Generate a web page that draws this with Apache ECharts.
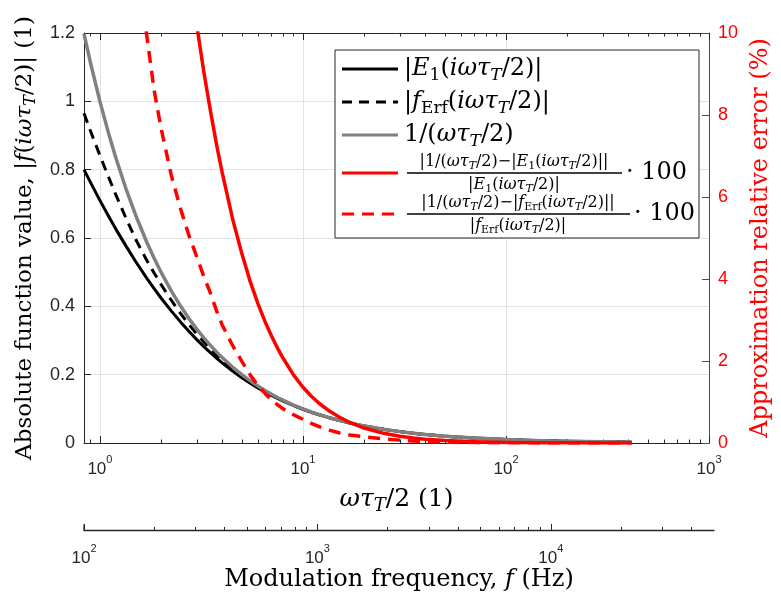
<!DOCTYPE html>
<html><head><meta charset="utf-8">
<script src="https://cdn.jsdelivr.net/npm/echarts@6/dist/echarts.min.js"></script>
<style>html,body{margin:0;padding:0;background:#fff}#c{width:781px;height:605px}</style>
</head><body><div id="c"></div>
<script>
// ---- data ----
const omegaTau = [0.835, 0.9, 1, 1.1, 1.2, 1.35, 1.5, 1.7, 1.85, 2, 2.25, 2.5, 2.75, 3, 3.25, 3.5, 3.75, 4, 4.5, 5, 5.5, 6, 6.5, 7, 7.5, 8, 9, 10, 11, 12, 13.5, 15, 17, 20, 25, 30, 35, 40, 50, 70, 100, 150, 200, 300, 417];
const absE1 = [0.800, 0.7621, 0.7100, 0.6650, 0.6253, 0.5747, 0.5313, 0.4824, 0.4517, 0.4244, 0.3860, 0.3537, 0.3262, 0.3025, 0.2822, 0.2643, 0.2485, 0.2345, 0.2107, 0.1912, 0.1749, 0.1612, 0.1494, 0.1392, 0.1303, 0.1225, 0.1093, 0.0987, 0.0899, 0.0825, 0.0735, 0.0663, 0.0585, 0.0498, 0.0399, 0.0333, 0.0285, 0.0250, 0.0200, 0.0143, 0.0100, 0.00667, 0.0050, 0.00333, 0.0024];
const absFErf = [0.9650, 0.9122, 0.8418, 0.7803, 0.7253, 0.6555, 0.5963, 0.5350, 0.4977, 0.4643, 0.4172, 0.3784, 0.3462, 0.3189, 0.2957, 0.2756, 0.2583, 0.2430, 0.2171, 0.1961, 0.1788, 0.1644, 0.1520, 0.1414, 0.1321, 0.1240, 0.1104, 0.0994, 0.0905, 0.0830, 0.0738, 0.0665, 0.0587, 0.0499, 0.0400, 0.0333, 0.0286, 0.0250, 0.0200, 0.0143, 0.0100, 0.00667, 0.0050, 0.00333, 0.0024];
const inverseApprox = [1.1976, 1.1111, 1.0, 0.9091, 0.8333, 0.7407, 0.6667, 0.5882, 0.5405, 0.5, 0.4444, 0.4, 0.3636, 0.3333, 0.3077, 0.2857, 0.2667, 0.25, 0.2222, 0.2, 0.1818, 0.1667, 0.1538, 0.1429, 0.1333, 0.125, 0.1111, 0.1, 0.0909, 0.0833, 0.0741, 0.0667, 0.0588, 0.05, 0.04, 0.0333, 0.0286, 0.025, 0.02, 0.0143, 0.01, 0.00667, 0.005, 0.00333, 0.0024];
const errE1 = [49.7, 45.8, 40.8, 36.7, 33.3, 28.9, 25.5, 21.9, 19.66, 17.8, 15.14, 13.1, 11.49, 10.19, 9.05, 8.11, 7.29, 6.60, 5.47, 4.62, 3.935, 3.40, 2.964, 2.61, 2.31, 2.06, 1.654, 1.36, 1.14, 0.97, 0.779, 0.64, 0.501, 0.365, 0.236, 0.165, 0.121, 0.093, 0.060, 0.0306, 0.015, 0.0067, 0.00375, 0.00167, 0.00086];
const errFErf = [24.1, 21.8, 18.8, 16.5, 14.9, 13.0, 11.8, 9.95, 8.6, 7.68, 6.52, 5.70, 5.05, 4.54, 4.06, 3.66, 3.23, 2.88, 2.38, 1.99, 1.66, 1.40, 1.21, 1.05, 0.93, 0.83, 0.687, 0.58, 0.48, 0.40, 0.315, 0.25, 0.195, 0.15, 0.10, 0.07, 0.047, 0.033, 0.02, 0.01, 0.005, 0.0022, 0.0013, 0.0006, 0.0003];

const xMajorTicks = [1, 10, 100, 1000];
const xMinorTicks = [0.9, 2, 3, 4, 5, 6, 7, 8, 9, 20, 30, 40, 50, 60, 70, 80, 90, 200, 300, 400, 500, 600, 700, 800, 900];
const fMajorTicks = [100, 1000, 10000];
const fMinorTicks = [200, 300, 400, 500, 600, 700, 800, 900, 2000, 3000, 4000, 5000, 6000, 7000, 8000, 9000, 20000, 30000, 40000];
const xRange = [0.835, 1000];
const fRange = [100, 50000];
const yLeftRange = [0, 1.2];
const yRightRange = [0, 10];

// ---- styling ----
const SERIF = "'DejaVu Serif','Liberation Serif',serif";
const SANS = "'Liberation Sans',Arial,sans-serif";
const AX = '#262626';
const RED = '#ff0000';
const GRAY = '#808080';

function mathRich(fs, color) {
  return {
    r: {fontFamily: SERIF, fontSize: fs, color: color, lineHeight: Math.round(fs * 1.25)},
    i: {fontFamily: SERIF, fontStyle: 'italic', fontSize: fs, color: color, lineHeight: Math.round(fs * 1.25)},
    si: {fontFamily: SERIF, fontStyle: 'italic', fontSize: Math.round(fs * 0.7), color: color, verticalAlign: 'bottom', lineHeight: Math.round(fs * 0.7)},
    sr: {fontFamily: SERIF, fontSize: Math.round(fs * 0.7), color: color, verticalAlign: 'bottom', lineHeight: Math.round(fs * 0.7)}
  };
}
function supRich(color) {
  return {
    b: {fontFamily: SANS, fontSize: 17, color: color, lineHeight: 24, verticalAlign: 'bottom'},
    p: {fontFamily: SANS, fontSize: 11, color: color, lineHeight: 11, verticalAlign: 'top'}
  };
}
function powLabel(v) {
  const e = Math.log10(v);
  if (Math.abs(e - Math.round(e)) > 1e-6) return '';
  return '{b|10}{p|' + Math.round(e) + '}';
}
const pairs = (ys) => omegaTau.map((x, i) => [x, ys[i]]);

const E1 = '{i|E}{sr|1}{r|(}{i|iωτ}{si|T}{r|/2)}';
const FE = '{i|f}{sr|Erf}{r|(}{i|iωτ}{si|T}{r|/2)}';
const INV = '{r|1/(}{i|ωτ}{si|T}{r|/2)}';

const chart = echarts.init(document.getElementById('c'), null, {renderer: 'canvas'});

const legendRows = [
  {y: 69, color: '#000', dash: null},
  {y: 102, color: '#000', dash: [10, 7]},
  {y: 135, color: GRAY, dash: null},
  {y: 173, color: RED, dash: null},
  {y: 214, color: RED, dash: [12, 8]}
];
const graphic = [
  {type: 'rect', z: 100, shape: {x: 335, y: 50, width: 364, height: 188}, style: {fill: '#fff', stroke: AX, lineWidth: 1}}
];
legendRows.forEach(r => {
  graphic.push({type: 'line', z: 101, shape: {x1: 342, y1: r.y, x2: 398, y2: r.y},
    style: {stroke: r.color, lineWidth: 3, lineDash: r.dash}});
});
function txt(x, y, text, fs, align) {
  return {type: 'text', z: 101, x: x, y: y,
    style: {text: text, rich: mathRich(fs, '#000'), align: align || 'left', textAlign: align || 'left',
      verticalAlign: 'middle', textVerticalAlign: 'middle'}};
}
graphic.push(txt(404, 69, '{r||}' + E1 + '{r||}', 24));
graphic.push(txt(404, 102, '{r||}' + FE + '{r||}', 24));
graphic.push(txt(404, 135, INV, 24));
// fraction rows
graphic.push(txt(514, 162, '{r||}' + INV + '{r|−|}' + E1 + '{r|||}', 16, 'center'));
graphic.push({type: 'line', z: 101, shape: {x1: 407, y1: 173, x2: 622, y2: 173}, style: {stroke: '#000', lineWidth: 1.3}});
graphic.push(txt(514, 185, '{r||}' + E1 + '{r||}', 16, 'center'));
graphic.push(txt(626, 173, '{r|· 100}', 24));
graphic.push(txt(518, 203, '{r||}' + INV + '{r|−|}' + FE + '{r|||}', 16, 'center'));
graphic.push({type: 'line', z: 101, shape: {x1: 407, y1: 214, x2: 630, y2: 214}, style: {stroke: '#000', lineWidth: 1.3}});
graphic.push(txt(518, 226, '{r||}' + FE + '{r||}', 16, 'center'));
graphic.push(txt(634, 214, '{r|· 100}', 24));

const option = {
  animation: false,
  backgroundColor: '#fff',
  grid: [
    {left: 84, right: 67, top: 33, bottom: 162, containLabel: false},
    {left: 84, right: 67, top: 525, height: 5, containLabel: false}
  ],
  xAxis: [
    { // main log axis
      type: 'log', logBase: 10, gridIndex: 0, position: 'bottom', min: xRange[0], max: xRange[1],
      axisLine: {show: true, onZero: false, lineStyle: {color: AX, width: 1}},
      axisTick: {show: true, inside: true, length: 7, customValues: xMajorTicks, lineStyle: {color: AX}},
      minorTick: {show: false},
      axisLabel: {show: true, customValues: xMajorTicks, margin: 11, formatter: powLabel, rich: supRich(AX)},
      splitLine: {show: true, lineStyle: {color: '#e3e3e3', width: 1}},
      name: '{i|ωτ}{si|T}{r|/2 (1)}', nameLocation: 'middle', nameGap: 41,
      nameTextStyle: {rich: mathRich(25, '#000')}
    },
    { // minor ticks bottom
      type: 'log', logBase: 10, gridIndex: 0, position: 'bottom', min: xRange[0], max: xRange[1],
      axisLine: {show: false, onZero: false}, axisLabel: {show: false}, splitLine: {show: false},
      axisTick: {show: true, inside: true, length: 3.5, customValues: xMinorTicks, lineStyle: {color: AX}}
    },
    { // top border major
      type: 'log', logBase: 10, gridIndex: 0, position: 'top', min: xRange[0], max: xRange[1],
      axisLine: {show: true, onZero: false, lineStyle: {color: AX}}, axisLabel: {show: false}, splitLine: {show: false},
      axisTick: {show: true, inside: true, length: 7, customValues: xMajorTicks, lineStyle: {color: AX}}
    },
    { // top border minor
      type: 'log', logBase: 10, gridIndex: 0, position: 'top', min: xRange[0], max: xRange[1],
      axisLine: {show: false, onZero: false}, axisLabel: {show: false}, splitLine: {show: false},
      axisTick: {show: true, inside: true, length: 3.5, customValues: xMinorTicks, lineStyle: {color: AX}}
    },
    { // frequency axis
      type: 'log', logBase: 10, gridIndex: 1, position: 'bottom', min: fRange[0], max: fRange[1],
      axisLine: {show: true, onZero: false, lineStyle: {color: AX, width: 1.3}},
      axisTick: {show: true, inside: true, length: 6, customValues: fMajorTicks, lineStyle: {color: AX}},
      axisLabel: {show: true, customValues: fMajorTicks, margin: 13, formatter: powLabel, rich: supRich(AX)},
      splitLine: {show: false},
      name: '{r|Modulation frequency, }{i|f}{r| (Hz)}', nameLocation: 'middle', nameGap: 31,
      nameTextStyle: {rich: mathRich(24, '#000')}
    },
    {
      type: 'log', logBase: 10, gridIndex: 1, position: 'bottom', min: fRange[0], max: fRange[1],
      axisLine: {show: false, onZero: false}, axisLabel: {show: false}, splitLine: {show: false},
      axisTick: {show: true, inside: true, length: 3, customValues: fMinorTicks, lineStyle: {color: AX}}
    }
  ],
  yAxis: [
    {
      type: 'value', gridIndex: 0, position: 'left', min: yLeftRange[0], max: yLeftRange[1], interval: 0.2,
      axisLine: {show: true, onZero: false, lineStyle: {color: AX, width: 1}},
      axisTick: {show: true, inside: true, length: 7, lineStyle: {color: AX}},
      axisLabel: {margin: 9, fontFamily: SANS, fontSize: 18, color: AX},
      splitLine: {show: true, lineStyle: {color: '#e3e3e3', width: 1}},
      name: '{r|Absolute function value, |}{i|f}{r|(}{i|iωτ}{si|T}{r|/2)| (1)}',
      nameLocation: 'middle', nameGap: 42, nameRotate: 90,
      nameTextStyle: {rich: mathRich(23, '#000')}
    },
    {
      type: 'value', gridIndex: 0, position: 'right', min: yRightRange[0], max: yRightRange[1], interval: 2,
      axisLine: {show: true, onZero: false, lineStyle: {color: RED, width: 1}},
      axisTick: {show: true, inside: true, length: 7, lineStyle: {color: RED}},
      axisLabel: {margin: 9, fontFamily: SANS, fontSize: 18, color: RED},
      splitLine: {show: false},
      name: '{r|Approximation relative error (%)}',
      nameLocation: 'middle', nameGap: 33, nameRotate: 90,
      nameTextStyle: {rich: mathRich(24, RED)}
    },
    {
      type: 'value', gridIndex: 1, position: 'left', min: 0, max: 1,
      axisLine: {show: true, onZero: false, lineStyle: {color: RED, width: 1.5}},
      axisTick: {show: false}, axisLabel: {show: false}, splitLine: {show: false}
    }
  ],
  series: [
    {name: 'E1', type: 'line', xAxisIndex: 0, yAxisIndex: 0, data: pairs(absE1), showSymbol: false, symbol: 'none', smooth: false,
      lineStyle: {color: '#000', width: 3, join: 'round'}, z: 2},
    {name: 'fErf', type: 'line', xAxisIndex: 0, yAxisIndex: 0, data: pairs(absFErf), showSymbol: false, symbol: 'none', smooth: false,
      lineStyle: {color: '#000', width: 3, type: [10, 7]}, z: 3},
    {name: 'inv', type: 'line', xAxisIndex: 0, yAxisIndex: 0, data: pairs(inverseApprox), showSymbol: false, symbol: 'none', smooth: false,
      lineStyle: {color: GRAY, width: 3.5, join: 'round'}, z: 4},
    {name: 'errE1', type: 'line', xAxisIndex: 0, yAxisIndex: 1, data: pairs(errE1), showSymbol: false, symbol: 'none', smooth: false,
      lineStyle: {color: RED, width: 3.5, join: 'round'}, z: 5},
    {name: 'errFErf', type: 'line', xAxisIndex: 0, yAxisIndex: 1, data: pairs(errFErf), showSymbol: false, symbol: 'none', smooth: false,
      lineStyle: {color: RED, width: 3.5, type: [12, 8]}, z: 6}
  ],
  graphic: graphic
};
chart.setOption(option);
</script></body></html>
